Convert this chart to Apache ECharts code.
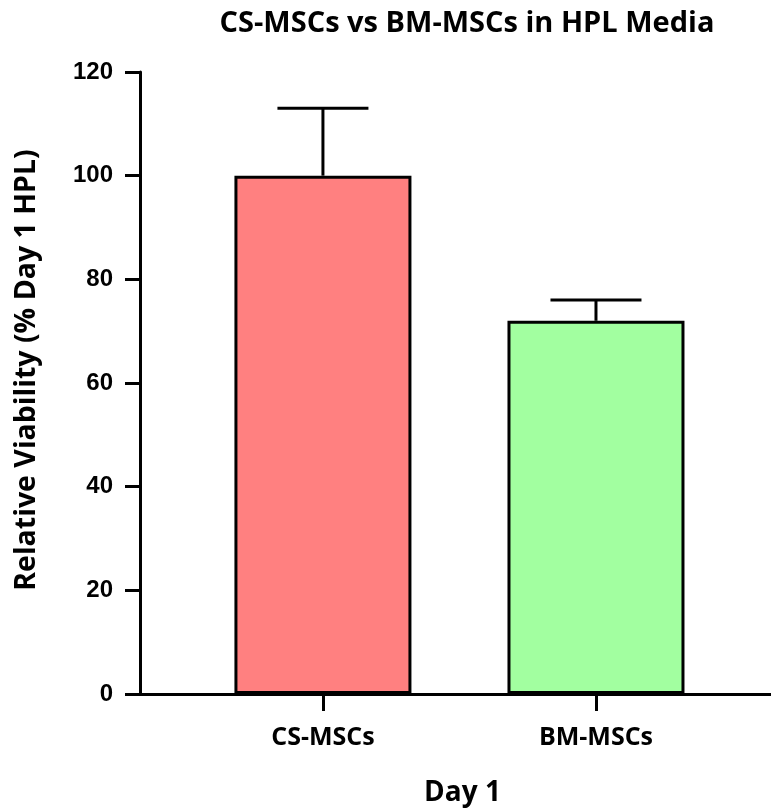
<!DOCTYPE html>
<html><head><meta charset="utf-8">
<script src="https://cdn.jsdelivr.net/npm/echarts@6/dist/echarts.min.js"></script>
<style>html,body{margin:0;padding:0;background:#fff}#c{width:771px;height:808px}</style>
</head><body><div id="c"></div>
<script>
var categories = ['CS-MSCs', 'BM-MSCs'];
var means = [100, 72];
var sds = [13, 4];
var colors = ['#FF8080', '#A2FFA0'];
var yTicks = [0, 20, 40, 60, 80, 100, 120];

var chart = echarts.init(document.getElementById('c'));
var barData = categories.map(function (c, i) {
  return { value: [i, means[i]], itemStyle: { color: colors[i] } };
});
var errData = categories.map(function (c, i) { return [i, means[i], sds[i]]; });
var font = 'Open Sans';
chart.setOption({
  animation: false,
  title: {
    text: 'CS-MSCs vs BM-MSCs in HPL Media',
    left: 462, top: 4, textAlign: 'center',
    textStyle: { fontFamily: font, fontWeight: 'bold', fontSize: 29, color: '#000' }
  },
  grid: { left: 140, right: 0, top: 72, bottom: 114, containLabel: false, outerBoundsMode: 'none' },
  xAxis: {
    type: 'value', min: -0.67, max: 1.641,
    name: 'Day 1', nameLocation: 'middle', nameGap: 85,
    nameTextStyle: { fontFamily: font, fontWeight: 'bold', fontSize: 28, color: '#000', padding: [0, 0, 0, 14] },
    axisLine: { show: true, onZero: false, lineStyle: { color: '#000', width: 3 } },
    axisTick: { show: true, customValues: [0, 1], length: 17, inside: false, lineStyle: { color: '#000', width: 3 } },
    axisLabel: { customValues: [0, 1], margin: 31, formatter: function (v) { return categories[Math.round(v)]; },
      fontFamily: font, fontWeight: 'bold', fontSize: 25, color: '#000' },
    splitLine: { show: false }
  },
  yAxis: {
    type: 'value', min: 0, max: 120, interval: 20,
    name: 'Relative Viability (% Day 1 HPL)', nameLocation: 'middle', nameGap: 99, nameRotate: 90,
    nameTextStyle: { fontFamily: font, fontWeight: 'bold', fontSize: 28.5, color: '#000', padding: [0, 0, 0, 26] },
    axisLine: { show: true, onZero: false, lineStyle: { color: '#000', width: 3 } },
    axisTick: { show: true, length: 15, lineStyle: { color: '#000', width: 3 } },
    axisLabel: { margin: 27, fontFamily: 'Liberation Sans', fontWeight: 'bold', fontSize: 24, color: '#000' },
    splitLine: { show: false }
  },
  series: [
    {
      type: 'bar', data: barData, barWidth: 177, z: 2,
      itemStyle: { borderColor: '#000', borderWidth: 3 }
    },
    {
      type: 'custom', z: 3, data: errData,
      renderItem: function (params, api) {
        var x = api.value(0), m = api.value(1), s = api.value(2);
        var p0 = api.coord([x, m]);
        var p1 = api.coord([x, m + s]);
        var hw = 45.5;
        return {
          type: 'group',
          children: [
            { type: 'line', shape: { x1: p0[0], y1: p0[1], x2: p1[0], y2: p1[1] }, style: { stroke: '#000', lineWidth: 3 } },
            { type: 'line', shape: { x1: p1[0] - hw, y1: p1[1], x2: p1[0] + hw, y2: p1[1] }, style: { stroke: '#000', lineWidth: 3 } }
          ]
        };
      }
    }
  ]
});
</script></body></html>
